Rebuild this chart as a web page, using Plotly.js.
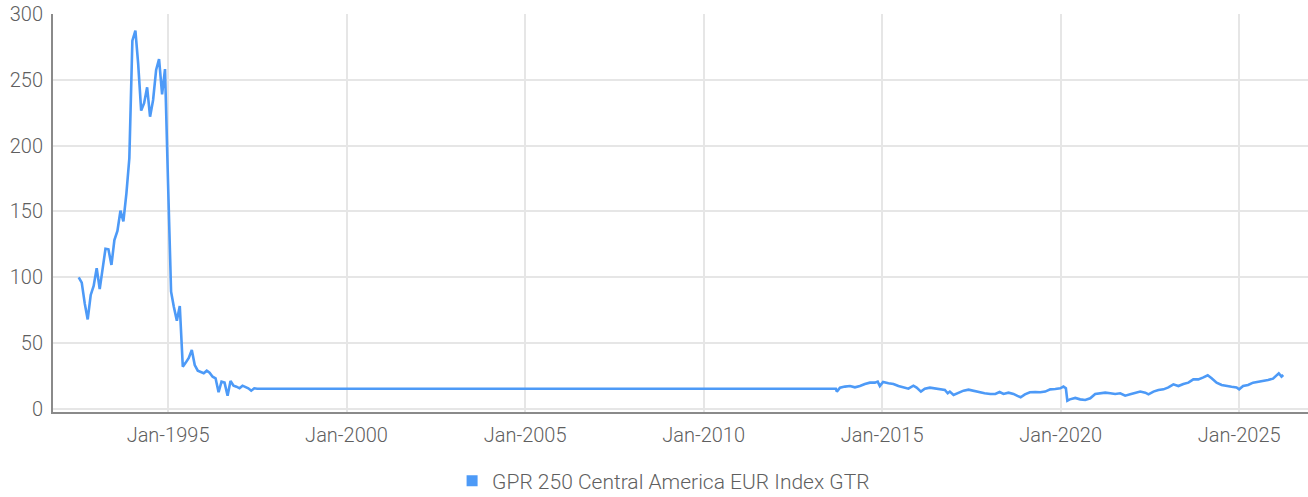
<!DOCTYPE html>
<html>
<head>
<meta charset="utf-8">
<script src="https://cdn.plot.ly/plotly-3.0.1.min.js"></script>
<style>
html,body{margin:0;padding:0;background:#fff;}
#chart{width:1308px;height:497px;}
</style>
</head>
<body>
<div id="chart"></div>
<script>
// Early monthly history (Jul 1992 - Jul 1997)
const earlyDates = [
"1992-07-01","1992-08-01","1992-09-01","1992-10-01","1992-11-01","1992-12-01",
"1993-01-01","1993-02-01","1993-03-01","1993-04-01","1993-05-01","1993-06-01",
"1993-07-01","1993-08-01","1993-09-01","1993-10-01","1993-11-01","1993-12-01",
"1994-01-01","1994-02-01","1994-03-01","1994-04-01","1994-05-01","1994-06-01",
"1994-07-01","1994-08-01","1994-09-01","1994-10-01","1994-11-01","1994-12-01",
"1995-01-01","1995-02-01","1995-03-01","1995-04-01","1995-05-01","1995-06-01",
"1995-07-01","1995-08-01","1995-09-01","1995-10-01","1995-11-01","1995-12-01",
"1996-01-01","1996-02-01","1996-03-01","1996-04-01","1996-05-01","1996-06-01",
"1996-07-01","1996-08-01","1996-09-01","1996-10-01","1996-11-01","1996-12-01",
"1997-01-01","1997-02-01","1997-03-01","1997-04-01","1997-05-01","1997-06-01",
"1997-07-01"
];
const earlyValues = [
100,96,80,68,86.6,93.4,
107,91,105.6,121.7,121.3,109.4,
128.3,135.2,150.6,142.5,163.8,190.4,
279.7,287.3,262.5,226.6,232.2,244.3,
222,234.7,257.5,265.8,239,258.2,
171.4,89.1,77.7,67.1,78.2,32.1,
35.2,38.7,44.8,33.4,29.1,27.9,
27.1,29.1,27.6,24.5,23.3,12.7,
20.7,20,10.1,21.3,17.7,16.9,
15.7,17.7,16.9,15.7,13.9,15.7,
15.4
];
// Recent history (Sep 2013 - Mar 2026)
const recentDates = [
"2013-09-15","2013-09-25","2013-10-27","2013-12-16","2014-02-06","2014-03-29",
"2014-05-19","2014-07-09","2014-08-29","2014-10-19","2014-11-17","2014-12-09",
"2015-01-11","2015-03-07","2015-04-27","2015-06-17","2015-08-07","2015-09-27",
"2015-11-17","2015-12-20","2016-02-02","2016-03-13","2016-05-04","2016-06-24",
"2016-08-14","2016-10-04","2016-11-02","2016-11-24","2017-01-01","2017-02-21",
"2017-04-13","2017-06-03","2017-07-24","2017-09-13","2017-11-14","2018-01-12",
"2018-03-04","2018-04-17","2018-05-27","2018-07-17","2018-09-06","2018-10-16",
"2018-11-18","2019-01-01","2019-02-21","2019-04-17","2019-06-07","2019-07-28",
"2019-09-17","2019-11-07","2019-12-28","2020-01-30","2020-02-24","2020-03-10",
"2020-04-05","2020-05-30","2020-07-19","2020-09-09","2020-10-30","2020-12-20",
"2021-02-06","2021-04-02","2021-05-23","2021-07-13","2021-09-02","2021-10-23",
"2021-12-13","2022-02-03","2022-03-26","2022-05-16","2022-06-18","2022-08-08",
"2022-09-28","2022-11-18","2023-01-08","2023-02-28","2023-04-20","2023-06-10",
"2023-07-31","2023-09-20","2023-11-10","2024-01-01","2024-02-14","2024-03-25",
"2024-05-15","2024-07-05","2024-08-25","2024-10-15","2024-12-05","2025-01-01",
"2025-02-10","2025-04-02","2025-05-23","2025-07-13","2025-09-02","2025-10-23",
"2025-12-13","2026-01-15","2026-02-10","2026-03-10","2026-03-28"
];
const recentValues = [
15.4,13.2,16.2,17.0,17.4,16.4,
17.4,19.0,20.0,20.0,20.8,17.4,
20.5,19.5,19.0,17.4,16.4,15.4,
17.7,16.2,13.2,15.4,16.2,15.7,
14.9,14.4,11.9,13.2,10.6,12.4,
13.9,14.7,13.9,12.7,11.9,11.4,
11.4,12.9,11.4,12.4,11.4,9.9,
8.9,11.1,12.7,12.9,12.7,13.2,
14.9,15.2,15.7,17.0,15.7,6.3,
7.3,8.4,7.3,6.8,8.1,11.4,
11.9,12.4,11.9,11.4,11.9,10.1,
11.1,11.9,13.2,12.4,11.1,13.2,
14.4,14.9,16.4,18.7,17.4,19.0,
20.0,22.5,22.5,24.0,25.6,23.3,
20.0,18.2,17.4,16.9,16.4,14.9,
17.4,18.2,20.0,20.5,21.0,22.0,
23.0,25.3,27.1,24.6,25.8
];
const seriesName = "GPR 250 Central America EUR Index GTR";
const yTicks = [0,50,100,150,200,250,300];

const allDates = earlyDates.concat(recentDates);
const allValues = earlyValues.concat(recentValues);

const lineColor = "#4d9af7";
const fontFam = "Roboto, 'Liberation Sans', sans-serif";

const traces = [
  {
    type: "scatter", mode: "lines", x: allDates, y: allValues,
    name: seriesName, showlegend: false,
    line: {color: lineColor, width: 2.6}
  },
  {
    type: "scatter", mode: "markers", x: [null], y: [null],
    name: seriesName, showlegend: true,
    marker: {color: lineColor, symbol: "square", size: 11}
  }
];

const layout = {
  width: 1308, height: 497,
  margin: {l: 53, r: 0, t: 14, b: 85, autoexpand: false},
  paper_bgcolor: "#ffffff", plot_bgcolor: "#ffffff",
  font: {family: fontFam, size: 20, color: "#5f5f5f", weight: 300},
  showlegend: true,
  legend: {
    orientation: "h", x: 0.318, xanchor: "left", y: -0.122, yanchor: "top",
    font: {family: fontFam, size: 21, color: "#5f5f5f", weight: 300},
    itemwidth: 30
  },
  xaxis: {
    type: "date",
    range: ["1991-10-12", "2026-12-06"],
    tick0: "1995-01-01", dtick: "M60", tickformat: "%b-%Y",
    showgrid: true, gridcolor: "#e6e6e6", gridwidth: 2,
    showline: true, linecolor: "#8a8a8a", linewidth: 2,
    ticks: "", ticklabelstandoff: 4,
    zeroline: false
  },
  yaxis: {
    range: [-2.3, 300],
    tickvals: yTicks,
    showgrid: true, gridcolor: "#e6e6e6", gridwidth: 2,
    showline: true, linecolor: "#8a8a8a", linewidth: 2,
    ticks: "", ticklabelstandoff: 4,
    zeroline: false
  },
  hovermode: false
};

Plotly.newPlot("chart", traces, layout, {displayModeBar: false, staticPlot: true});
</script>
</body>
</html>
